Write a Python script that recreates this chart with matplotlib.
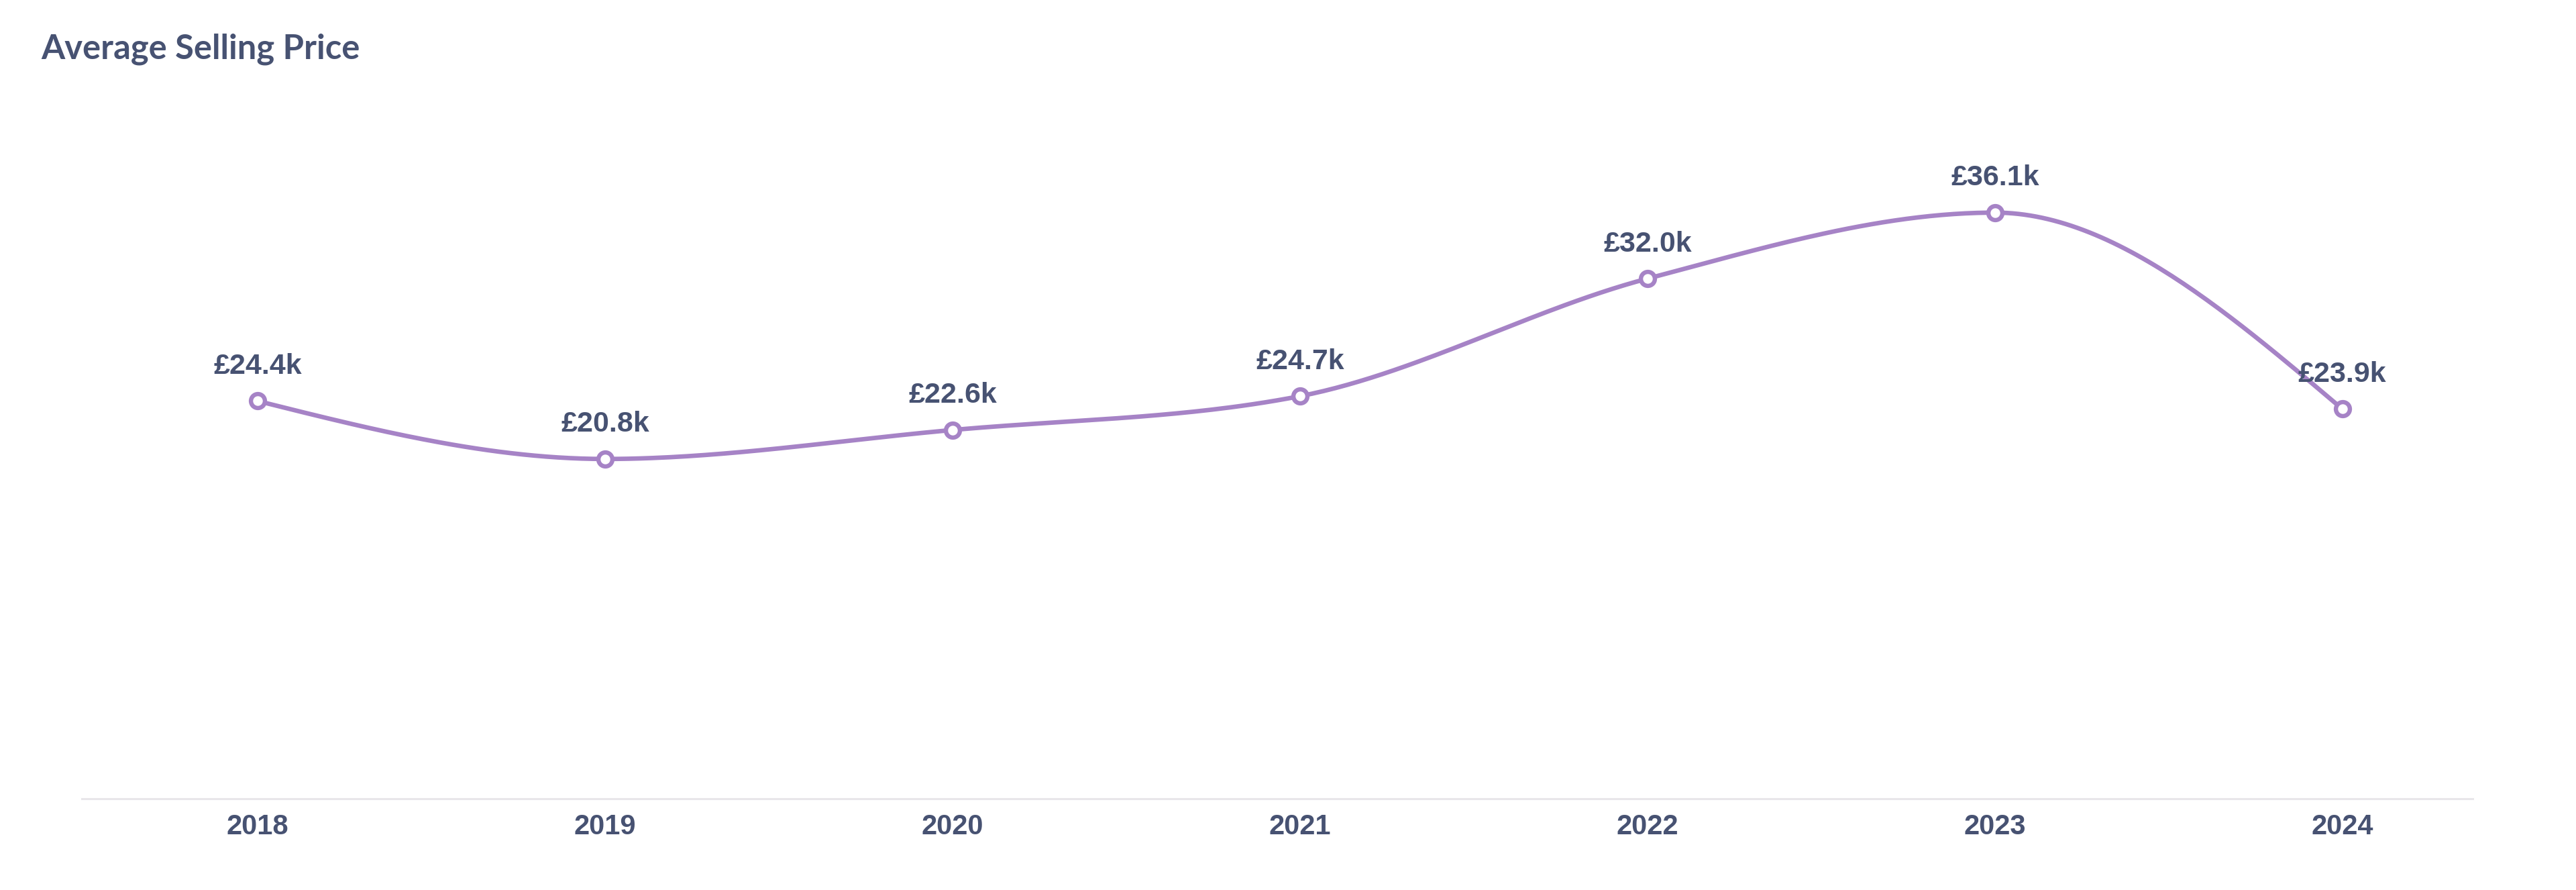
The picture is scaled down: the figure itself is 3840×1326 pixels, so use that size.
import numpy as np
import matplotlib
matplotlib.use("Agg")
import matplotlib.pyplot as plt

years = [2018, 2019, 2020, 2021, 2022, 2023, 2024]
prices_k = [24.4, 20.8, 22.6, 24.7, 32.0, 36.1, 23.9]
labels = ["£24.4k", "£20.8k", "£22.6k", "£24.7k", "£32.0k", "£36.1k", "£23.9k"]
title = "Average Selling Price"

LINE = "#a683c6"
TEXT = "#475272"


def monotone_x(x, y, n=60):
    x = np.asarray(x, float)
    y = np.asarray(y, float)
    k = len(x)
    h = np.diff(x)
    s = np.diff(y) / h
    t = np.zeros(k)
    for i in range(1, k - 1):
        h0, h1 = h[i - 1], h[i]
        s0, s1 = s[i - 1], s[i]
        p = (s0 * h1 + s1 * h0) / (h0 + h1)
        t[i] = (np.sign(s0) + np.sign(s1)) * min(abs(s0), abs(s1), 0.5 * abs(p))
    t[0] = (3 * s[0] - t[1]) / 2
    t[-1] = (3 * s[-1] - t[-2]) / 2
    xs, ys = [], []
    u = np.linspace(0, 1, n)
    for i in range(k - 1):
        dx = h[i]
        p0 = (x[i], y[i])
        p1 = (x[i] + dx / 3, y[i] + dx * t[i] / 3)
        p2 = (x[i + 1] - dx / 3, y[i + 1] - dx * t[i + 1] / 3)
        p3 = (x[i + 1], y[i + 1])
        bx = (1 - u) ** 3 * p0[0] + 3 * (1 - u) ** 2 * u * p1[0] + 3 * (1 - u) * u ** 2 * p2[0] + u ** 3 * p3[0]
        by = (1 - u) ** 3 * p0[1] + 3 * (1 - u) ** 2 * u * p1[1] + 3 * (1 - u) * u ** 2 * p2[1] + u ** 3 * p3[1]
        xs.extend(bx)
        ys.extend(by)
    return np.array(xs), np.array(ys)


fig = plt.figure(figsize=(38.4, 13.26), dpi=100)
ax = fig.add_axes([122 / 3840, 1 - 1190 / 1326, (3686 - 122) / 3840, (1190 - 228) / 1326])

cx, cy = monotone_x(years, prices_k)
ax.plot(cx, cy, color=LINE, lw=4.8, solid_capstyle="round", zorder=2)
ax.plot(years, prices_k, linestyle="none", marker="o", markersize=15,
        markerfacecolor="white", markeredgecolor=LINE, markeredgewidth=4.6, zorder=3)

for xv, yv, lab in zip(years, prices_k, labels):
    ax.annotate(lab, (xv, yv), xytext=(0, 37), textcoords="offset points",
                ha="center", va="center", fontsize=31, fontweight="bold",
                color=TEXT, family="Liberation Sans", zorder=4)

ax.set_xlim(2018 - 0.506, 2024 + 0.375)
ax.set_ylim(-0.3, 39.8)
ax.set_xticks(years)
ax.set_xticklabels([str(y) for y in years], fontsize=30, fontweight="bold",
                   color=TEXT, family="Liberation Sans")
ax.tick_params(axis="x", length=0, pad=16)
ax.set_yticks([])
for side in ["top", "right", "left"]:
    ax.spines[side].set_visible(False)
ax.spines["bottom"].set_color("#e8e6ea")
ax.spines["bottom"].set_linewidth(2.2)

fig.text(61 / 3840, 1 - 73 / 1326, title, ha="left", va="center",
         fontsize=36.5, fontweight="bold", color=TEXT, family="Lato")

fig.savefig("out.png", dpi=100, facecolor="white")
